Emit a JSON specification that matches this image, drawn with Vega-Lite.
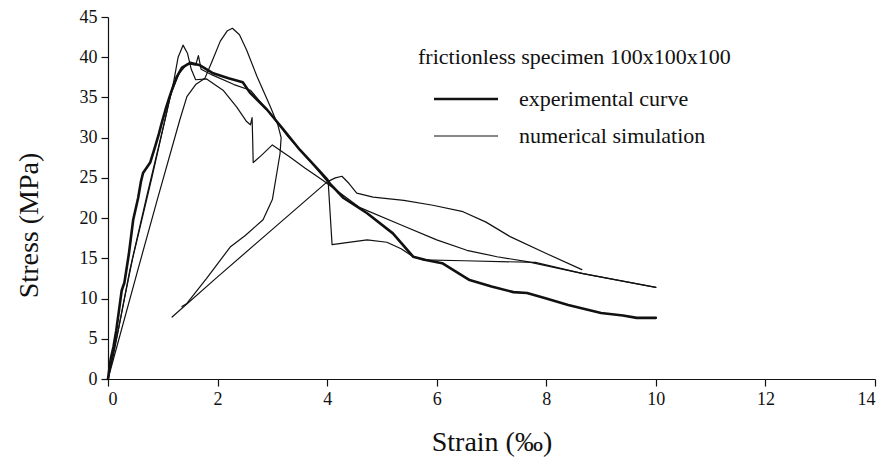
{
  "$schema": "https://vega.github.io/schema/vega-lite/v6.json",
  "width": 767,
  "height": 362,
  "autosize": "none",
  "padding": {"left": 108, "top": 17, "right": 11, "bottom": 87},
  "background": "white",
  "config": {
    "font": "Liberation Serif",
    "view": {"stroke": null},
    "axis": {"grid": false, "domainColor": "#111", "tickColor": "#111", "labelColor": "#111", "titleColor": "#111", "labelFont": "Liberation Serif", "titleFont": "Liberation Serif", "labelFontSize": 18, "titleFontSize": 28, "titleFontWeight": "normal", "tickSize": 7, "domainWidth": 1.2, "tickWidth": 1.2}
  },
  "datasets": {
    "curves": [
      {"series": "exp", "kind": "experimental curve", "order": 1, "x": 0, "y": 0},
      {"series": "exp", "kind": "experimental curve", "order": 2, "x": 0.05, "y": 2.5},
      {"series": "exp", "kind": "experimental curve", "order": 3, "x": 0.1, "y": 4},
      {"series": "exp", "kind": "experimental curve", "order": 4, "x": 0.15, "y": 6},
      {"series": "exp", "kind": "experimental curve", "order": 5, "x": 0.2, "y": 8.5},
      {"series": "exp", "kind": "experimental curve", "order": 6, "x": 0.25, "y": 11},
      {"series": "exp", "kind": "experimental curve", "order": 7, "x": 0.3, "y": 12},
      {"series": "exp", "kind": "experimental curve", "order": 8, "x": 0.38, "y": 15.5},
      {"series": "exp", "kind": "experimental curve", "order": 9, "x": 0.46, "y": 19.8},
      {"series": "exp", "kind": "experimental curve", "order": 10, "x": 0.55, "y": 22.5},
      {"series": "exp", "kind": "experimental curve", "order": 11, "x": 0.6, "y": 24.5},
      {"series": "exp", "kind": "experimental curve", "order": 12, "x": 0.64, "y": 25.6},
      {"series": "exp", "kind": "experimental curve", "order": 13, "x": 0.77, "y": 26.9},
      {"series": "exp", "kind": "experimental curve", "order": 14, "x": 0.86, "y": 28.9},
      {"series": "exp", "kind": "experimental curve", "order": 15, "x": 0.93, "y": 30.5},
      {"series": "exp", "kind": "experimental curve", "order": 16, "x": 0.98, "y": 31.8},
      {"series": "exp", "kind": "experimental curve", "order": 17, "x": 1.05, "y": 33.5},
      {"series": "exp", "kind": "experimental curve", "order": 18, "x": 1.12, "y": 35},
      {"series": "exp", "kind": "experimental curve", "order": 19, "x": 1.17, "y": 36},
      {"series": "exp", "kind": "experimental curve", "order": 20, "x": 1.25, "y": 37.5},
      {"series": "exp", "kind": "experimental curve", "order": 21, "x": 1.35, "y": 38.7},
      {"series": "exp", "kind": "experimental curve", "order": 22, "x": 1.5, "y": 39.3},
      {"series": "exp", "kind": "experimental curve", "order": 23, "x": 1.68, "y": 39.0},
      {"series": "exp", "kind": "experimental curve", "order": 24, "x": 1.92, "y": 38.0},
      {"series": "exp", "kind": "experimental curve", "order": 25, "x": 2.2, "y": 37.4},
      {"series": "exp", "kind": "experimental curve", "order": 26, "x": 2.46, "y": 36.9},
      {"series": "exp", "kind": "experimental curve", "order": 27, "x": 2.59, "y": 35.6},
      {"series": "exp", "kind": "experimental curve", "order": 28, "x": 2.9, "y": 33.5},
      {"series": "exp", "kind": "experimental curve", "order": 29, "x": 3.18, "y": 31.2},
      {"series": "exp", "kind": "experimental curve", "order": 30, "x": 3.5, "y": 28.5},
      {"series": "exp", "kind": "experimental curve", "order": 31, "x": 3.8, "y": 26.3},
      {"series": "exp", "kind": "experimental curve", "order": 32, "x": 4.0, "y": 24.8},
      {"series": "exp", "kind": "experimental curve", "order": 33, "x": 4.05, "y": 24.3},
      {"series": "exp", "kind": "experimental curve", "order": 34, "x": 4.3, "y": 22.5},
      {"series": "exp", "kind": "experimental curve", "order": 35, "x": 4.73, "y": 20.6},
      {"series": "exp", "kind": "experimental curve", "order": 36, "x": 5.2, "y": 18.1},
      {"series": "exp", "kind": "experimental curve", "order": 37, "x": 5.57, "y": 15.2},
      {"series": "exp", "kind": "experimental curve", "order": 38, "x": 5.8, "y": 14.8},
      {"series": "exp", "kind": "experimental curve", "order": 39, "x": 6.1, "y": 14.4},
      {"series": "exp", "kind": "experimental curve", "order": 40, "x": 6.6, "y": 12.3},
      {"series": "exp", "kind": "experimental curve", "order": 41, "x": 7.0, "y": 11.5},
      {"series": "exp", "kind": "experimental curve", "order": 42, "x": 7.4, "y": 10.8},
      {"series": "exp", "kind": "experimental curve", "order": 43, "x": 7.65, "y": 10.7},
      {"series": "exp", "kind": "experimental curve", "order": 44, "x": 8.0, "y": 10.0},
      {"series": "exp", "kind": "experimental curve", "order": 45, "x": 8.4, "y": 9.2},
      {"series": "exp", "kind": "experimental curve", "order": 46, "x": 9.0, "y": 8.2},
      {"series": "exp", "kind": "experimental curve", "order": 47, "x": 9.4, "y": 7.9},
      {"series": "exp", "kind": "experimental curve", "order": 48, "x": 9.65, "y": 7.6},
      {"series": "exp", "kind": "experimental curve", "order": 49, "x": 10.0, "y": 7.6},

      {"series": "n1", "kind": "numerical simulation", "order": 1, "x": 0, "y": 0},
      {"series": "n1", "kind": "numerical simulation", "order": 2, "x": 0.2, "y": 6.5},
      {"series": "n1", "kind": "numerical simulation", "order": 3, "x": 0.4, "y": 13.6},
      {"series": "n1", "kind": "numerical simulation", "order": 4, "x": 0.7, "y": 22.5},
      {"series": "n1", "kind": "numerical simulation", "order": 5, "x": 1.04, "y": 32.2},
      {"series": "n1", "kind": "numerical simulation", "order": 6, "x": 1.2, "y": 37},
      {"series": "n1", "kind": "numerical simulation", "order": 7, "x": 1.28, "y": 40},
      {"series": "n1", "kind": "numerical simulation", "order": 8, "x": 1.37, "y": 41.5},
      {"series": "n1", "kind": "numerical simulation", "order": 9, "x": 1.45, "y": 40.5},
      {"series": "n1", "kind": "numerical simulation", "order": 10, "x": 1.52, "y": 38.5},
      {"series": "n1", "kind": "numerical simulation", "order": 11, "x": 1.6, "y": 37.2},
      {"series": "n1", "kind": "numerical simulation", "order": 12, "x": 1.8, "y": 37.3},
      {"series": "n1", "kind": "numerical simulation", "order": 13, "x": 2.1, "y": 35.9},
      {"series": "n1", "kind": "numerical simulation", "order": 14, "x": 2.35, "y": 33.8},
      {"series": "n1", "kind": "numerical simulation", "order": 15, "x": 2.53, "y": 32},
      {"series": "n1", "kind": "numerical simulation", "order": 16, "x": 2.6, "y": 31.6},
      {"series": "n1", "kind": "numerical simulation", "order": 17, "x": 2.63, "y": 32.5},
      {"series": "n1", "kind": "numerical simulation", "order": 18, "x": 2.64, "y": 30},
      {"series": "n1", "kind": "numerical simulation", "order": 19, "x": 2.65, "y": 26.9},
      {"series": "n1", "kind": "numerical simulation", "order": 20, "x": 2.8, "y": 27.8},
      {"series": "n1", "kind": "numerical simulation", "order": 21, "x": 3.0, "y": 29.1},
      {"series": "n1", "kind": "numerical simulation", "order": 22, "x": 3.32, "y": 27.6},
      {"series": "n1", "kind": "numerical simulation", "order": 23, "x": 3.6, "y": 26.2},
      {"series": "n1", "kind": "numerical simulation", "order": 24, "x": 3.92, "y": 24.7},
      {"series": "n1", "kind": "numerical simulation", "order": 25, "x": 4.1, "y": 23.8},
      {"series": "n1", "kind": "numerical simulation", "order": 26, "x": 4.6, "y": 21.3},
      {"series": "n1", "kind": "numerical simulation", "order": 27, "x": 5.33, "y": 19.2},
      {"series": "n1", "kind": "numerical simulation", "order": 28, "x": 6.0, "y": 17.3},
      {"series": "n1", "kind": "numerical simulation", "order": 29, "x": 6.55, "y": 16.0},
      {"series": "n1", "kind": "numerical simulation", "order": 30, "x": 7.1, "y": 15.2},
      {"series": "n1", "kind": "numerical simulation", "order": 31, "x": 7.65, "y": 14.6},
      {"series": "n1", "kind": "numerical simulation", "order": 32, "x": 8.67, "y": 13.1},
      {"series": "n1", "kind": "numerical simulation", "order": 33, "x": 10.0, "y": 11.4},

      {"series": "n2", "kind": "numerical simulation", "order": 1, "x": 0, "y": 0},
      {"series": "n2", "kind": "numerical simulation", "order": 2, "x": 0.53, "y": 13.2},
      {"series": "n2", "kind": "numerical simulation", "order": 3, "x": 0.9, "y": 22.3},
      {"series": "n2", "kind": "numerical simulation", "order": 4, "x": 1.31, "y": 32.2},
      {"series": "n2", "kind": "numerical simulation", "order": 5, "x": 1.44, "y": 35.1},
      {"series": "n2", "kind": "numerical simulation", "order": 6, "x": 1.6, "y": 36.6},
      {"series": "n2", "kind": "numerical simulation", "order": 7, "x": 1.77, "y": 37.4},
      {"series": "n2", "kind": "numerical simulation", "order": 8, "x": 1.9, "y": 39.5},
      {"series": "n2", "kind": "numerical simulation", "order": 9, "x": 2.05, "y": 42},
      {"series": "n2", "kind": "numerical simulation", "order": 10, "x": 2.18, "y": 43.3},
      {"series": "n2", "kind": "numerical simulation", "order": 11, "x": 2.27, "y": 43.6},
      {"series": "n2", "kind": "numerical simulation", "order": 12, "x": 2.4, "y": 42.8},
      {"series": "n2", "kind": "numerical simulation", "order": 13, "x": 2.53, "y": 40.9},
      {"series": "n2", "kind": "numerical simulation", "order": 14, "x": 2.72, "y": 37.6},
      {"series": "n2", "kind": "numerical simulation", "order": 15, "x": 2.96, "y": 33.9},
      {"series": "n2", "kind": "numerical simulation", "order": 16, "x": 3.1, "y": 31.6},
      {"series": "n2", "kind": "numerical simulation", "order": 17, "x": 3.16, "y": 30},
      {"series": "n2", "kind": "numerical simulation", "order": 18, "x": 3.14, "y": 28},
      {"series": "n2", "kind": "numerical simulation", "order": 19, "x": 3.0, "y": 22.3},
      {"series": "n2", "kind": "numerical simulation", "order": 20, "x": 2.83, "y": 19.8},
      {"series": "n2", "kind": "numerical simulation", "order": 21, "x": 2.5, "y": 17.8},
      {"series": "n2", "kind": "numerical simulation", "order": 22, "x": 2.23, "y": 16.4},
      {"series": "n2", "kind": "numerical simulation", "order": 23, "x": 1.8, "y": 12.5},
      {"series": "n2", "kind": "numerical simulation", "order": 24, "x": 1.44, "y": 9.4},
      {"series": "n2", "kind": "numerical simulation", "order": 25, "x": 1.35, "y": 9.0},

      {"series": "n3", "kind": "numerical simulation", "order": 1, "x": 0, "y": 0},
      {"series": "n3", "kind": "numerical simulation", "order": 2, "x": 0.1, "y": 3},
      {"series": "n3", "kind": "numerical simulation", "order": 3, "x": 0.3, "y": 10},
      {"series": "n3", "kind": "numerical simulation", "order": 4, "x": 0.45, "y": 15},
      {"series": "n3", "kind": "numerical simulation", "order": 5, "x": 0.8, "y": 25},
      {"series": "n3", "kind": "numerical simulation", "order": 6, "x": 1.0, "y": 31},
      {"series": "n3", "kind": "numerical simulation", "order": 7, "x": 1.15, "y": 35.5},
      {"series": "n3", "kind": "numerical simulation", "order": 8, "x": 1.3, "y": 38},
      {"series": "n3", "kind": "numerical simulation", "order": 9, "x": 1.45, "y": 39.2},
      {"series": "n3", "kind": "numerical simulation", "order": 10, "x": 1.6, "y": 39},
      {"series": "n3", "kind": "numerical simulation", "order": 11, "x": 1.65, "y": 40.2},
      {"series": "n3", "kind": "numerical simulation", "order": 12, "x": 1.7, "y": 38.5},
      {"series": "n3", "kind": "numerical simulation", "order": 13, "x": 1.9, "y": 37.8},
      {"series": "n3", "kind": "numerical simulation", "order": 14, "x": 2.3, "y": 36.6},
      {"series": "n3", "kind": "numerical simulation", "order": 15, "x": 2.6, "y": 35.9},
      {"series": "n3", "kind": "numerical simulation", "order": 16, "x": 2.96, "y": 33},
      {"series": "n3", "kind": "numerical simulation", "order": 17, "x": 3.3, "y": 30},
      {"series": "n3", "kind": "numerical simulation", "order": 18, "x": 3.7, "y": 27},
      {"series": "n3", "kind": "numerical simulation", "order": 19, "x": 4.02, "y": 24.4},
      {"series": "n3", "kind": "numerical simulation", "order": 20, "x": 4.09, "y": 16.7},
      {"series": "n3", "kind": "numerical simulation", "order": 21, "x": 4.29, "y": 16.9},
      {"series": "n3", "kind": "numerical simulation", "order": 22, "x": 4.73, "y": 17.3},
      {"series": "n3", "kind": "numerical simulation", "order": 23, "x": 5.09, "y": 17.0},
      {"series": "n3", "kind": "numerical simulation", "order": 24, "x": 5.35, "y": 16.2},
      {"series": "n3", "kind": "numerical simulation", "order": 25, "x": 5.57, "y": 15.2},
      {"series": "n3", "kind": "numerical simulation", "order": 26, "x": 5.75, "y": 14.8},
      {"series": "n3", "kind": "numerical simulation", "order": 27, "x": 6.5, "y": 14.7},
      {"series": "n3", "kind": "numerical simulation", "order": 28, "x": 7.8, "y": 14.5},
      {"series": "n3", "kind": "numerical simulation", "order": 29, "x": 8.67, "y": 13.1},
      {"series": "n3", "kind": "numerical simulation", "order": 30, "x": 10.0, "y": 11.4},

      {"series": "n4", "kind": "numerical simulation", "order": 1, "x": 1.17, "y": 7.7},
      {"series": "n4", "kind": "numerical simulation", "order": 2, "x": 2.0, "y": 12.7},
      {"series": "n4", "kind": "numerical simulation", "order": 3, "x": 3.0, "y": 18.6},
      {"series": "n4", "kind": "numerical simulation", "order": 4, "x": 4.0, "y": 24.5},
      {"series": "n4", "kind": "numerical simulation", "order": 5, "x": 4.15, "y": 25.0},
      {"series": "n4", "kind": "numerical simulation", "order": 6, "x": 4.27, "y": 25.2},
      {"series": "n4", "kind": "numerical simulation", "order": 7, "x": 4.4, "y": 24.3},
      {"series": "n4", "kind": "numerical simulation", "order": 8, "x": 4.54, "y": 23.1},
      {"series": "n4", "kind": "numerical simulation", "order": 9, "x": 4.84, "y": 22.6},
      {"series": "n4", "kind": "numerical simulation", "order": 10, "x": 5.4, "y": 22.2},
      {"series": "n4", "kind": "numerical simulation", "order": 11, "x": 5.93, "y": 21.6},
      {"series": "n4", "kind": "numerical simulation", "order": 12, "x": 6.48, "y": 20.8},
      {"series": "n4", "kind": "numerical simulation", "order": 13, "x": 6.9, "y": 19.5},
      {"series": "n4", "kind": "numerical simulation", "order": 14, "x": 7.34, "y": 17.7},
      {"series": "n4", "kind": "numerical simulation", "order": 15, "x": 8.0, "y": 15.6},
      {"series": "n4", "kind": "numerical simulation", "order": 16, "x": 8.65, "y": 13.6}
    ]
  },
  "data": {"name": "curves"},
  "mark": {"type": "line", "color": "#111", "strokeJoin": "round", "strokeCap": "round"},
  "encoding": {
    "x": {"field": "x", "type": "quantitative", "scale": {"domain": [0, 14], "nice": false, "zero": false}, "axis": {"values": [0, 2, 4, 6, 8, 10, 12, 14], "title": "Strain (‰)", "titlePadding": 20, "labelPadding": 4}},
    "y": {"field": "y", "type": "quantitative", "scale": {"domain": [0, 45], "nice": false}, "axis": {"values": [0, 5, 10, 15, 20, 25, 30, 35, 40, 45], "title": "Stress (MPa)", "titlePadding": 36, "titleY": 208, "labelPadding": 4}},
    "detail": {"field": "series"},
    "order": {"field": "order"},
    "strokeWidth": {"field": "kind", "type": "nominal", "scale": {"domain": ["experimental curve", "numerical simulation"], "range": [2.6, 1.2]},
      "legend": {"title": "frictionless specimen 100x100x100", "orient": "none", "legendX": 310, "legendY": 30, "titleLimit": 500, "labelLimit": 400, "symbolType": "M-4,0H4", "symbolSize": 256, "symbolOffset": 37, "symbolStrokeColor": "#111", "symbolFillColor": "transparent", "labelFont": "Liberation Serif", "labelFontSize": 22, "titleFont": "Liberation Serif", "titleFontSize": 22, "titleFontWeight": "normal", "titleColor": "#111", "labelColor": "#111", "labelOffset": 42, "titlePadding": 19, "rowPadding": 15}}
  }
}
